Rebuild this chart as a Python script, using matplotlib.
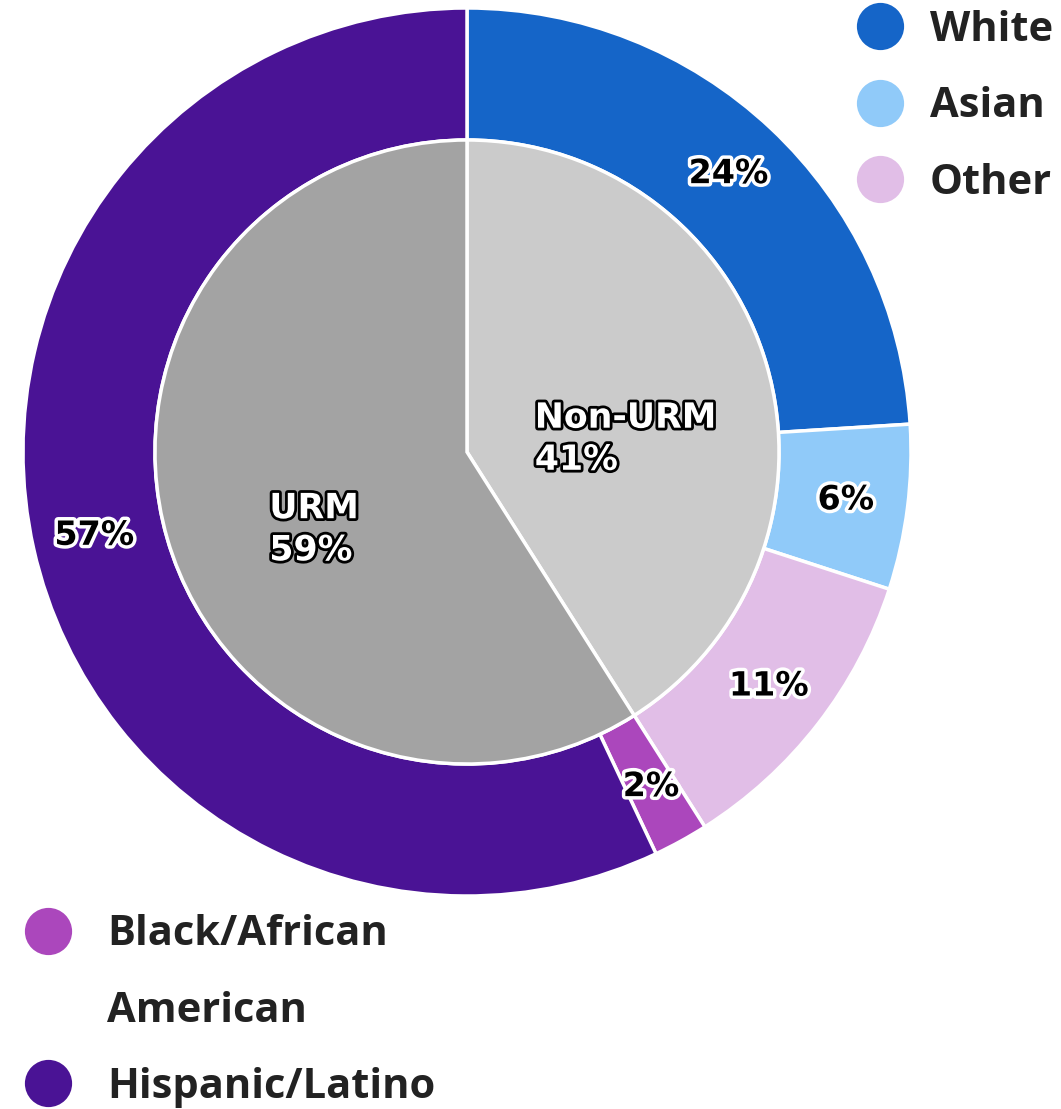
import matplotlib.pyplot as plt
import matplotlib.patheffects as pe
import matplotlib.transforms as mtransforms
from matplotlib.lines import Line2D

# outer ring: race / ethnicity
races = ["White", "Asian", "Other", "Black/African American", "Hispanic/Latino"]
race_pct = [24, 6, 11, 2, 57]
race_colors = ["#1565c8", "#90caf9", "#e1bee7", "#ab47bc", "#4a1395"]

# inner pie: URM split
groups = ["Non-URM", "URM"]
group_pct = [41, 59]
group_colors = ["#cbcbcb", "#a3a3a3"]

W, H = 1061, 1109
fig = plt.figure(figsize=(W / 100, H / 100), dpi=100)
ax = fig.add_axes([0, 0, 1, 1])

cx, cy = 467, H - 452
r_out, r_in = 444, 312

dark_halo = [pe.withStroke(linewidth=4, foreground="black")]
light_halo = [pe.withStroke(linewidth=5, foreground="white")]

wedges, texts, autotexts = ax.pie(
    race_pct, colors=race_colors, radius=r_out, center=(cx, cy),
    startangle=90, counterclock=False, autopct="%d%%", pctdistance=0.86,
    wedgeprops=dict(width=r_out - r_in, edgecolor="white", linewidth=2.5),
    textprops=dict(fontsize=24, fontweight="bold", family="DejaVu Sans"),
)
for t in autotexts:
    t.set_color("black")
    t.set_path_effects(light_halo)

wi, ti, inner_txt = ax.pie(
    group_pct, colors=group_colors, radius=r_in, center=(cx, cy),
    startangle=90, counterclock=False,
    autopct=lambda p: "", pctdistance=0.52,
    wedgeprops=dict(edgecolor="white", linewidth=2.5),
)
shift = mtransforms.ScaledTranslation(0.03, -0.32, fig.dpi_scale_trans)
for t, name, v in zip(inner_txt, groups, group_pct):
    t.set_text(f"{name}\n{v}%")
    t.set_fontsize(25)
    t.set_fontweight("bold")
    t.set_family("DejaVu Sans")
    t.set_color("white")
    t.set_multialignment("left")
    t.set_linespacing(1.3)
    t.set_path_effects(dark_halo)
    t.set_transform(t.get_transform() + shift)

ax.set_xlim(0, W)
ax.set_ylim(0, H)
ax.set_aspect("auto")
ax.axis("off")


def handle(i):
    if i is None:
        return Line2D([], [], linestyle="none", marker=None)
    return Line2D([], [], linestyle="none", marker="o", markersize=34,
                  markerfacecolor=race_colors[i], markeredgecolor="none")


leg_kw = dict(frameon=False, prop=dict(family="Open Sans", weight="bold", size=30),
              labelspacing=0.85, handlelength=1.3, borderpad=0, borderaxespad=0,
              labelcolor="#222222")

top = ax.legend([handle(0), handle(1), handle(2)], races[:3], loc="upper left",
                bbox_to_anchor=(853 / W, 1.0 - 10 / H), handletextpad=0.55, **leg_kw)
ax.add_artist(top)

first, second = races[3].split(" ")
ax.legend([handle(3), handle(None), handle(4)], [first, second, races[4]],
          loc="lower left", bbox_to_anchor=(21 / W, 1 / H), handletextpad=0.77,
          **leg_kw)

fig.savefig("out.png", dpi=100)
